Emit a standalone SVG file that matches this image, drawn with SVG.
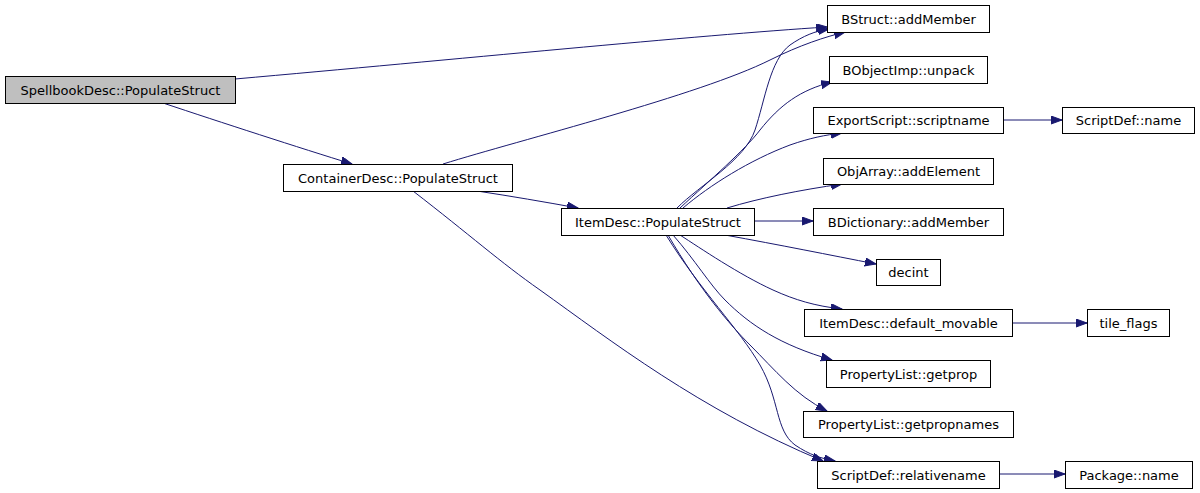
<svg xmlns="http://www.w3.org/2000/svg" width="1200" height="493" viewBox="0 0 1200 493">
<style>
  .box { fill: #ffffff; stroke: #000000; stroke-width: 1; }
  .root { fill: #bfbfbf; }
  text { font-family: "DejaVu Sans", "Liberation Sans", sans-serif; font-size: 13px; fill: #000000; text-anchor: middle; }
  .edge { fill: none; stroke: #191970; stroke-width: 1; marker-end: url(#arrow); }
</style>
<defs>
  <marker id="arrow" markerUnits="userSpaceOnUse" markerWidth="12" markerHeight="9" refX="11" refY="4" orient="auto" viewBox="0 0 12 9">
    <path d="M0,0 L11,4 L0,8 z" fill="#191970" stroke="#191970" stroke-width="1"/>
  </marker>
</defs>
<rect width="1200" height="493" fill="#ffffff"/>
<g id="connectors">
  <path class="edge" d="M235,79 C450,60 700,35 827,27"/>
  <path class="edge" d="M163,103 C220,122 300,148 352,164"/>
  <path class="edge" d="M443,164 C520,140 700,95 770,60 C800,45 825,37 845,32"/>
  <path class="edge" d="M677,208 C700,185 745,160 755,130 C765,100 770,60 790,45 C803,36 815,31 829,29"/>
  <path class="edge" d="M680,208 C710,180 745,150 760,130 C780,105 800,90 832,82"/>
  <path class="edge" d="M683,208 C710,185 750,160 790,145 C810,138 825,135 842,133"/>
  <path class="edge" d="M727,208 C760,198 800,190 842,184"/>
  <path class="edge" d="M754,221 L813,221"/>
  <path class="edge" d="M725,235 C780,245 830,255 876,264"/>
  <path class="edge" d="M680,235 C700,248 740,275 773,290 C795,300 815,306 842,309"/>
  <path class="edge" d="M673,235 C695,260 710,285 725,300 C750,325 780,345 832,360"/>
  <path class="edge" d="M668,235 C700,290 730,325 750,345 C775,370 795,395 827,411"/>
  <path class="edge" d="M666,235 C700,290 740,330 760,365 C780,400 775,430 795,445 C810,455 820,458 835,461"/>
  <path class="edge" d="M413,191 C470,235 500,262 540,290 C610,340 700,410 823,461"/>
  <path class="edge" d="M477,191 C510,196 545,202 578,208"/>
  <path class="edge" d="M1003,120 L1062,120"/>
  <path class="edge" d="M1012,323 L1087,323"/>
  <path class="edge" d="M999,474 L1065,474"/>
</g>
<g id="node-spellbook"><rect class="box root" x="5.5" y="76.5" width="230" height="27"/><text x="120.5" y="94.5">SpellbookDesc::PopulateStruct</text></g>
<g id="node-container"><rect class="box" x="283.5" y="164.5" width="229" height="27"/><text x="398" y="182.5">ContainerDesc::PopulateStruct</text></g>
<g id="node-item"><rect class="box" x="561.5" y="208.5" width="193" height="27"/><text x="658" y="226.5">ItemDesc::PopulateStruct</text></g>
<g id="node-bstruct"><rect class="box" x="827.5" y="5.5" width="162" height="27"/><text x="908.5" y="23.5">BStruct::addMember</text></g>
<g id="node-bobject"><rect class="box" x="829.5" y="56.5" width="158" height="27"/><text x="908.5" y="74.5">BObjectImp::unpack</text></g>
<g id="node-export"><rect class="box" x="813.5" y="107.5" width="190" height="26"/><text x="908.5" y="125">ExportScript::scriptname</text></g>
<g id="node-sdname"><rect class="box" x="1062.5" y="107.5" width="132" height="26"/><text x="1128.5" y="125">ScriptDef::name</text></g>
<g id="node-objarray"><rect class="box" x="823.5" y="158.5" width="170" height="26"/><text x="908.5" y="176">ObjArray::addElement</text></g>
<g id="node-bdict"><rect class="box" x="813.5" y="208.5" width="190" height="27"/><text x="908.5" y="226.5">BDictionary::addMember</text></g>
<g id="node-decint"><rect class="box" x="876.5" y="259.5" width="64" height="26"/><text x="908.5" y="277">decint</text></g>
<g id="node-defmov"><rect class="box" x="804.5" y="309.5" width="208" height="27"/><text x="908.5" y="327.5">ItemDesc::default_movable</text></g>
<g id="node-tile"><rect class="box" x="1087.5" y="309.5" width="82" height="27"/><text x="1128.5" y="327.5">tile_flags</text></g>
<g id="node-getprop"><rect class="box" x="826.5" y="360.5" width="164" height="27"/><text x="908.5" y="378.5">PropertyList::getprop</text></g>
<g id="node-getpropnames"><rect class="box" x="803.5" y="411.5" width="210" height="26"/><text x="908.5" y="429">PropertyList::getpropnames</text></g>
<g id="node-relname"><rect class="box" x="817.5" y="461.5" width="182" height="27"/><text x="908.5" y="479.5">ScriptDef::relativename</text></g>
<g id="node-package"><rect class="box" x="1065.5" y="461.5" width="127" height="27"/><text x="1129" y="479.5">Package::name</text></g>
</svg>
